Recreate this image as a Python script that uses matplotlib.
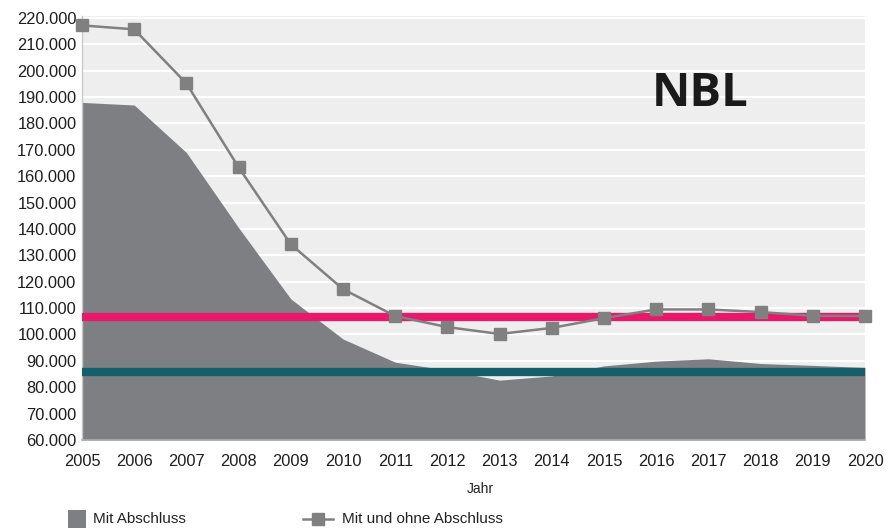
import matplotlib
matplotlib.use("Agg")
import matplotlib.pyplot as plt
from matplotlib.lines import Line2D
from matplotlib.patches import Rectangle
from matplotlib import font_manager

years = [2005, 2006, 2007, 2008, 2009, 2010, 2011, 2012, 2013, 2014, 2015, 2016, 2017, 2018, 2019, 2020]
mit_abschluss = [188000, 187000, 169000, 140500, 113500, 98300, 89500, 86500, 82700, 84300, 88100, 89900, 90800, 89000, 88300, 87500]
mit_und_ohne = [217200, 215700, 195200, 163400, 134200, 117200, 107000, 102800, 100200, 102500, 106200, 109500, 109500, 108500, 107100, 107000]
pink_level = 106700
teal_level = 85700
y_ticks = list(range(60000, 220001, 10000))
y_labels = [f"{v // 1000}.000" for v in y_ticks]

names = {f.name for f in font_manager.fontManager.ttflist}
base_font = "Liberation Sans Narrow" if "Liberation Sans Narrow" in names else "Liberation Sans"
plt.rcParams['font.family'] = [base_font, 'DejaVu Sans']

fig = plt.figure(figsize=(8.9, 5.3), dpi=100)
ax = fig.add_axes([82 / 890, 1 - 440 / 530, (865 - 82) / 890, (440 - 16) / 530])
ax.set_facecolor("#eeeeee")
ax.set_xlim(2005, 2020)
ax.set_ylim(60000, 220000 + 10000 * 2 / 26.4)

for v in y_ticks:
    ax.axhline(v, color="white", lw=1.6, zorder=1)

ax.fill_between(years, 60000, mit_abschluss, color="#7e7f83", lw=0, zorder=2)
ax.axhline(pink_level, color="#e8186a", lw=6, zorder=3, xmax=0.997)
ax.axhline(teal_level, color="#155f6c", lw=6, zorder=3, xmin=0.005)
ax.plot(years, mit_und_ohne, color="#808080", lw=1.8, marker="s", markersize=9,
        markerfacecolor="#808080", markeredgecolor="#808080", zorder=4, clip_on=False)

for s in ["top", "right"]:
    ax.spines[s].set_visible(False)
ax.spines["left"].set_color("#c8c8c8")
ax.spines["bottom"].set_color("#b0b0b0")
ax.spines["left"].set_linewidth(1)
ax.spines["bottom"].set_linewidth(1.2)

ax.set_yticks(y_ticks)
ax.set_yticklabels(y_labels)
ax.set_xticks(years)
ax.set_xticklabels([str(y) for y in years])
ax.tick_params(axis="both", length=0, labelsize=11.8, colors="#1e1e1e")
ax.tick_params(axis="y", pad=4)
ax.tick_params(axis="x", pad=10)

ax.text(0.789, 0.818, "NBL", transform=ax.transAxes, ha="center", va="center",
        fontsize=34, fontweight="bold", color="#1a1a1a", family=["Open Sans", "DejaVu Sans"])

fig.text(480 / 890, 1 - 489 / 530, "Jahr", ha="center", va="center", fontsize=10, color="#222222")

fig.add_artist(Rectangle((68 / 890, 1 - 528 / 530), 18 / 890, 18 / 530, transform=fig.transFigure,
                         facecolor="#7e7f83", edgecolor="none"))
fig.text(93 / 890, 1 - 519 / 530, "Mit Abschluss", ha="left", va="center", fontsize=11, color="#222222")
fig.add_artist(Line2D([303 / 890, 333 / 890], [1 - 519 / 530, 1 - 519 / 530], transform=fig.transFigure,
                      color="#808080", lw=1.8))
fig.add_artist(Line2D([318 / 890], [1 - 519 / 530], transform=fig.transFigure, color="#808080",
                      marker="s", markersize=9, lw=0))
fig.text(342 / 890, 1 - 519 / 530, "Mit und ohne Abschluss", ha="left", va="center", fontsize=11, color="#222222")

fig.savefig("out.png", dpi=100)
